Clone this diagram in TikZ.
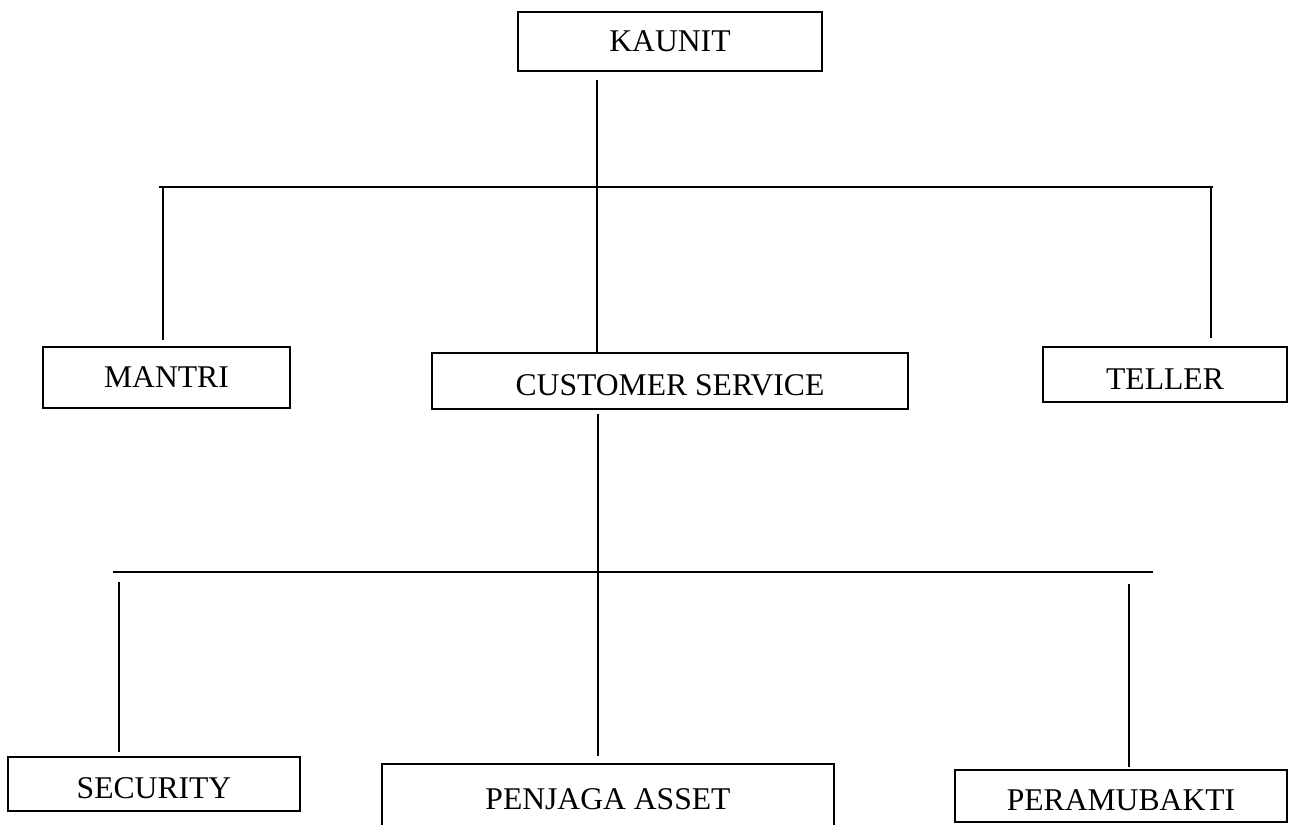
\documentclass[tikz,border=0pt]{standalone}
\usepackage{fontspec}
\setmainfont{Liberation Serif}
\usepackage{tikz}
\usetikzlibrary{positioning, calc}

\begin{document}
\begin{tikzpicture}[
    x=0.02cm, y=-0.02cm,
    unit/.style={rectangle, draw=black, line width=1.3pt, inner sep=0pt,
                 font=\fontsize{18}{22}\selectfont, align=center},
    low/.style={text height=17pt, text depth=0pt},
    link/.style={line width=0.7pt, black}
]
\useasboundingbox (0,0) rectangle (1289,825);

% pimpinan
\node[unit, minimum width=6.08cm, minimum height=1.18cm] (kaunit) at (670,41.5) {KAUNIT};

% tingkat kedua
\node[unit, minimum width=4.94cm, minimum height=1.22cm]      (mantri)   at (166.5,377.5) {MANTRI};
\node[unit, low, minimum width=9.52cm, minimum height=1.12cm] (cs)       at (670,381)     {CUSTOMER SERVICE};
\node[unit, low, minimum width=4.88cm, minimum height=1.10cm] (teller)   at (1165,374.5)  {TELLER};

% tingkat ketiga
\node[unit, low, minimum width=5.84cm, minimum height=1.08cm] (security) at (154,784)     {SECURITY};
\node[unit, minimum width=9.04cm, minimum height=1.40cm]      (penjaga)  at (608,799)     {PENJAGA ASSET};
\node[unit, low, minimum width=6.64cm, minimum height=1.04cm] (peramu)   at (1121,796)    {PERAMUBAKTI};

% titik cabang
\coordinate (kdrop)  at (597,80);
\coordinate (bar1w)  at (159,187);
\coordinate (bar1e)  at (1213,187);
\coordinate (mdrop)  at (163,187);
\coordinate (tdrop)  at (1211,187);
\coordinate (csdrop) at (598,414);
\coordinate (bar2w)  at (113,572);
\coordinate (bar2e)  at (1153,572);
\coordinate (sdrop)  at (119,582);
\coordinate (pdrop)  at (1129,584);

\draw[link] (kdrop) -- (kdrop |- cs.north);
\draw[link] (bar1w) -- (bar1e);
\draw[link, shorten >=0.12cm] (mdrop) -- (mdrop |- mantri.north);
\draw[link, shorten >=0.16cm] (tdrop) -- (tdrop |- teller.north);

\draw[link, shorten >=0.14cm] (csdrop) -- (csdrop |- penjaga.north);
\draw[link] (bar2w) -- (bar2e);
\draw[link, shorten >=0.08cm] (sdrop) -- (sdrop |- security.north);
\draw[link, shorten >=0.04cm] (pdrop) -- (pdrop |- peramu.north);
\end{tikzpicture}
\end{document}
